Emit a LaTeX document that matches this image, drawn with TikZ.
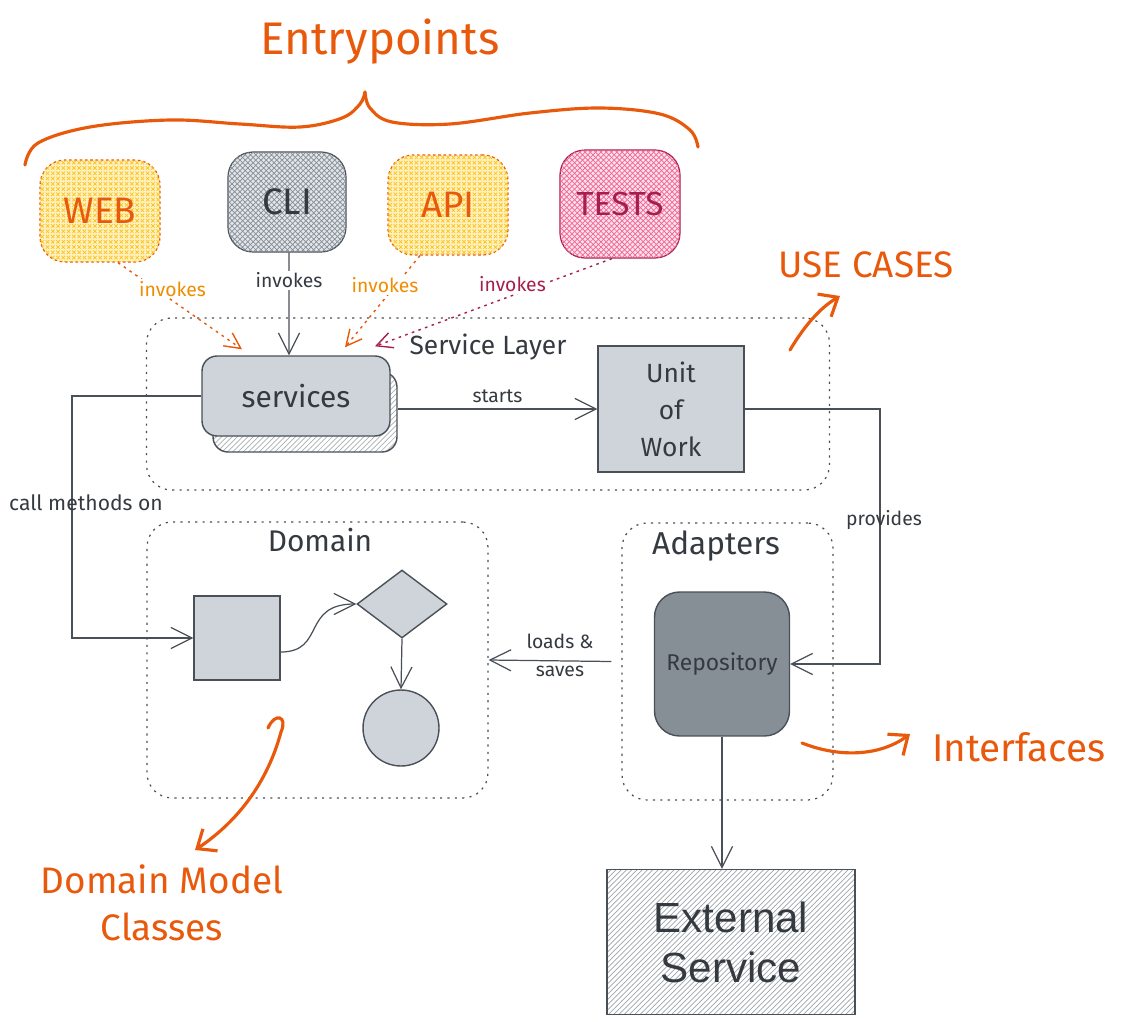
\documentclass[tikz,border=0pt]{standalone}
\usepackage{fontspec}
\setmainfont{Fira Sans}
\newfontfamily\extfont{Liberation Sans}
\usepackage{xcolor}
\usepackage{tikz}
\usetikzlibrary{arrows.meta, positioning, calc, patterns, shapes.geometric}

\definecolor{ink}{HTML}{495057}
\definecolor{inkdark}{HTML}{343A40}
\definecolor{accent}{HTML}{E8590C}
\definecolor{invokeorange}{HTML}{F08C00}
\definecolor{yellowfill}{HTML}{FFF0BF}
\definecolor{yellowhatch}{HTML}{FCC419}
\definecolor{pinkfill}{HTML}{FDE0EA}
\definecolor{pinkhatch}{HTML}{F06595}
\definecolor{crimson}{HTML}{A61E4D}
\definecolor{boxgray}{HTML}{CED4DA}
\definecolor{hatchgray}{HTML}{868E96}
\definecolor{repogray}{HTML}{868E96}

\tikzset{
  arr/.style={draw=ink, line width=0.7pt, -{Straight Barb[length=12pt,width=12pt]}},
  invoke/.style={line width=0.8pt, dash pattern=on 1.5pt off 2.5pt, -{Straight Barb[length=9pt,width=9pt]}},
  note/.style={draw=accent, line width=1.8pt, line cap=round, -{Straight Barb[length=9pt,width=15pt]}},
  noteline/.style={draw=accent, line width=1.8pt, line cap=round},
  notetext/.style={text=accent, font=\fontsize{21}{27}\selectfont},
  lbl/.style={text=inkdark, font=\fontsize{11}{16}\selectfont},
  entry/.style={rounded corners=0.5cm, minimum width=2.4cm, minimum height=2.0cm, line width=0.7pt,
    font=\fontsize{21}{24}\selectfont},
  yellowbox/.style={entry, draw=accent, dash pattern=on 1.5pt off 1.5pt, fill=yellowfill,
    postaction={pattern=crosshatch, pattern color=yellowhatch}, text=accent},
  greybox/.style={entry, draw=ink, fill=boxgray!60,
    postaction={pattern=crosshatch, pattern color=hatchgray}, text=inkdark},
  pinkbox/.style={entry, draw=crimson, fill=pinkfill,
    postaction={pattern=crosshatch, pattern color=pinkhatch}, text=crimson},
  group/.style={draw=ink, line width=0.7pt, dash pattern=on 1.2pt off 3pt, rounded corners=0.5cm},
  plainbox/.style={draw=ink, fill=boxgray, line width=0.8pt},
}

\begin{document}
\begin{tikzpicture}[x=0.02cm, y=-0.02cm]

\useasboundingbox (0,0) rectangle (1127,1022);

% --- Entrypoints and brace ---
\node[notetext, font=\fontsize{26}{30}\selectfont] (entryTitle) at (380,42) {Entrypoints};
\draw[noteline] plot[smooth, tension=0.6] coordinates {(25,165) (38,143) (90,127) (170,120) (240,124) (300,127) (342,118) (360,104) (365,92)};
\draw[noteline] plot[smooth, tension=0.6] coordinates {(365,92) (370,108) (392,122) (450,124) (530,113) (600,108) (660,114) (690,130) (698,147)};

% entrypoint boxes
\node[yellowbox, minimum height=2.04cm] (web) at (100,211) {WEB};
\node[greybox, minimum width=2.36cm] (cli) at (287,202) {CLI};
\node[yellowbox] (api) at (448,205) {API};
\node[pinkbox, minimum height=2.16cm, font=\fontsize{19}{22}\selectfont] (tests) at (620,204) {TESTS};

% --- Service Layer ---
\node[group, minimum width=13.66cm, minimum height=3.44cm] (serviceLayer) at (488,404) {};
\node[text=inkdark, font=\fontsize{15}{18}\selectfont] (serviceLayerLbl) at (488,347) {Service Layer};

\node[draw=ink, line width=0.8pt, rounded corners=0.3cm, preaction={fill=white},
  pattern=north east lines, pattern color=hatchgray!70,
  minimum width=3.68cm, minimum height=1.6cm] (servicesback) at (305,412) {};
\node[plainbox, rounded corners=0.3cm, minimum width=3.76cm, minimum height=1.6cm,
  text=inkdark, font=\fontsize{17}{20}\selectfont] (services) at (296,396) {services};

\node[plainbox, minimum width=2.92cm, minimum height=2.52cm, align=center,
  text=inkdark, font=\fontsize{15}{21}\selectfont] (uow) at (671,409) {Unit\\of\\Work};

% invokes connectors
\draw[invoke, draw=accent] ([xshift=0.36cm]web.south) -- node[pos=0.44, yshift=0.24cm, fill=white, inner sep=1pt, text=invokeorange, font=\fontsize{11}{13}\selectfont] (webInv) {invokes} ([xshift=-1.08cm,yshift=0.12cm]services.north);
\draw[arr] ([xshift=0.04cm]cli.south) -- node[pos=0.27, fill=white, inner sep=1pt, lbl] (cliInv) {invokes} ([xshift=-0.14cm]services.north);
\draw[invoke, draw=accent] ([xshift=-0.56cm]api.south) -- node[pos=0.4, xshift=-0.1cm, yshift=0.14cm, fill=white, inner sep=1pt, text=invokeorange, font=\fontsize{11}{13}\selectfont] (apiInv) {invokes} ([xshift=0.98cm,yshift=0.16cm]services.north);
\draw[invoke, draw=crimson] ([xshift=-0.16cm]tests.south) -- node[pos=0.42, yshift=0.22cm, fill=white, inner sep=1pt, text=crimson, font=\fontsize{11}{13}\selectfont] (testsInv) {invokes} ([xshift=1.58cm,yshift=0.18cm]services.north);

% starts
\draw[arr] (uow -| servicesback.east) -- node[above, lbl] (startsLbl) {starts} (uow.west);

% --- Domain ---
\node[group, minimum width=6.82cm, minimum height=5.52cm] (domain) at (317.5,660) {};
\node[text=inkdark, font=\fontsize{17}{20}\selectfont] (domainLbl) at (320,540) {Domain};

\node[plainbox, minimum width=1.72cm, minimum height=1.68cm] (cls) at (237,638) {};
\node[diamond, plainbox, minimum width=1.8cm, minimum height=1.36cm, inner sep=0pt] (dia) at (402,604) {};
\node[circle, plainbox, minimum size=1.52cm] (circ) at (401,728) {};

\draw[arr] ([yshift=-0.28cm]cls.east) .. controls +(45,0) and +(-55,0) .. (dia.west);
\draw[arr] (dia.south) -- (circ.north);

% --- Adapters ---
\node[group, minimum width=4.22cm, minimum height=5.54cm] (adapters) at (727.5,661.5) {};
\node[text=inkdark, font=\fontsize{18}{21}\selectfont] (adaptersLbl) at (716,546) {Adapters};

\node[plainbox, fill=repogray, rounded corners=0.5cm, minimum width=2.7cm, minimum height=2.88cm,
  text=inkdark, font=\fontsize{13}{15}\selectfont] (repo) at (722,664) {Repository};

% --- External Service ---
\node[draw=ink, line width=0.8pt, pattern=north east lines, pattern color=hatchgray!80,
  minimum width=4.96cm, minimum height=2.9cm, align=center,
  text=inkdark, font=\extfont\fontsize{24}{28.5}\selectfont] (ext) at (731,942) {External\\Service};

% --- connectors between layers ---
\coordinate (callx) at (72,500);
\coordinate (provx) at (880,530);
\draw[arr] (services.west) -| (callx) |- (cls.west);
\node[lbl, font=\fontsize{12}{14}\selectfont] (callLbl) at (86,503) {call methods on};

\draw[arr] (uow.east) -| (provx) |- (repo.east);
\node[lbl] (providesLbl) at (884,520) {provides};

\draw[arr] ([xshift=-0.2cm]adapters.west) -- (domain.east);
\node[lbl, align=center] (loadsLbl) at (560,655) {loads \&\\saves};

\draw[arr] (repo.south) -- (repo.south |- ext.north);

% --- annotations ---
\node[notetext] (useCases) at (866,265) {USE CASES};
\coordinate (ucTail) at (790,350);
\coordinate (ucTip) at (840,296);
\draw[note] (ucTail) .. controls (805,325) and (820,308) .. (ucTip);

\node[notetext, font=\fontsize{22}{26}\selectfont] (interfaces) at (1019,747) {Interfaces};
\coordinate (ifTail) at (802,743);
\coordinate (ifTip) at (910,734);
\draw[note] (ifTail) .. controls (840,758) and (880,756) .. (ifTip);

\node[notetext, align=center] (domainModel) at (162,903) {Domain Model\\Classes};
\coordinate (dmTail) at (268,728);
\coordinate (dmTip) at (195,850);
\draw[note] (dmTail) .. controls (275,712) and (288,716) .. (281,732) .. controls (268,780) and (240,820) .. (dmTip);

\end{tikzpicture}
\end{document}
